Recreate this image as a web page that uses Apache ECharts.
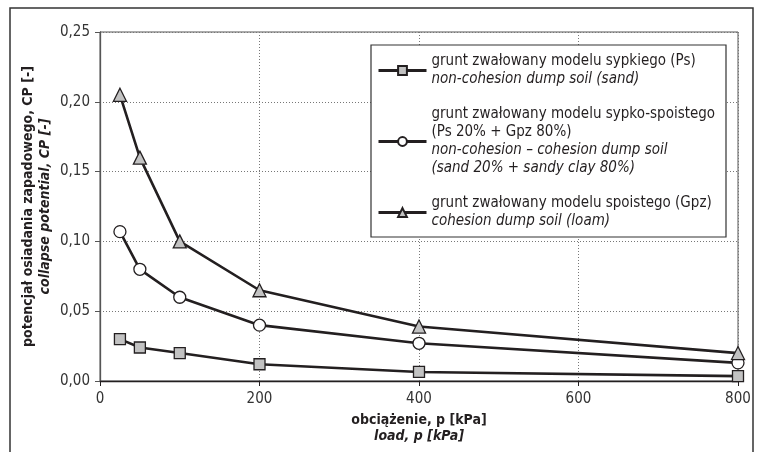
<!DOCTYPE html>
<html>
<head>
<meta charset="utf-8">
<script src="https://cdn.jsdelivr.net/npm/echarts@6/dist/echarts.min.js"></script>
<style>
html,body{margin:0;padding:0;background:#fff;}
#chart{width:758px;height:452px;}
</style>
</head>
<body>
<div id="chart"></div>
<script>
// ---- data ----
var loads = [25, 50, 100, 200, 400, 800];
var sandCP = [0.030, 0.024, 0.020, 0.012, 0.0065, 0.0035];
var mixCP = [0.107, 0.080, 0.060, 0.040, 0.027, 0.013];
var loamCP = [0.205, 0.160, 0.100, 0.065, 0.039, 0.020];
var seriesNames = ['sand', 'mix', 'loam'];
var legendPL = [
  ['grunt zwałowany modelu sypkiego (Ps)'],
  ['grunt zwałowany modelu sypko-spoistego', '(Ps 20% + Gpz 80%)'],
  ['grunt zwałowany modelu spoistego (Gpz)']
];
var legendEN = [
  ['non-cohesion dump soil (sand)'],
  ['non-cohesion – cohesion dump soil', '(sand 20% + sandy clay 80%)'],
  ['cohesion dump soil (loam)']
];
var xTitle = ['obciążenie, p [kPa]', 'load, p [kPa]'];
var yTitle = ['potencjał osiadania zapadowego, CP [-]', 'collapse potential, CP [-]'];

var FONT = '"Liberation Sans Narrow", "DejaVu Sans Condensed", "Roboto", sans-serif';

function pairs(ys) { return loads.map(function (x, i) { return [x, ys[i]]; }); }

var chart = echarts.init(document.getElementById('chart'), null, {renderer: 'canvas'});

function legendFmt(name) {
  var i = seriesNames.indexOf(name);
  var out = [];
  legendPL[i].forEach(function (t) { out.push('{p|' + t + '}'); });
  legendEN[i].forEach(function (t) { out.push('{e|' + t + '}'); });
  return out.join('\n');
}

var lineStyle = {color: '#231f20', width: 2.6};
var symStyle = function (fill) { return {color: fill, borderColor: '#231f20', borderWidth: 1.3}; };

chart.setOption({
  animation: false,
  backgroundColor: '#fff',
  textStyle: {fontFamily: FONT},
  graphic: [
    {type: 'rect', shape: {x: 10, y: 8, width: 743, height: 460}, style: {fill: 'none', stroke: '#333', lineWidth: 1.5}, silent: true, z: -1},
    {type: 'rect', shape: {x: 371, y: 45, width: 355, height: 192}, style: {fill: '#fff', stroke: '#333', lineWidth: 1.2}, silent: true, z: 5}
  ],
  grid: {left: 100, right: 20, top: 32, bottom: 71, show: true, borderColor: '#555', borderWidth: 1,
    outerBoundsMode: 'none', containLabel: false},
  legend: {
    orient: 'vertical',
    left: 377,
    top: 54,
    padding: 0,
    z: 10,
    itemWidth: 48,
    itemHeight: 11,
    itemGap: 20,
    data: seriesNames,
    formatter: legendFmt,
    lineStyle: {width: 3, color: '#231f20'},
    textStyle: {
      rich: {
        p: {fontFamily: FONT, fontSize: 15, lineHeight: 18, color: '#231f20'},
        e: {fontFamily: FONT, fontSize: 15, lineHeight: 18, color: '#231f20', fontStyle: 'italic'}
      }
    }
  },
  xAxis: {
    type: 'value', min: 0, max: 800, interval: 200,
    name: xTitle[0] + '\n{i|' + xTitle[1] + '}',
    nameLocation: 'middle', nameGap: 31,
    nameTextStyle: {fontFamily: FONT, fontSize: 14, fontWeight: 'bold', color: '#231f20', lineHeight: 16,
      rich: {i: {fontFamily: FONT, fontSize: 14, fontWeight: 'bold', fontStyle: 'italic', color: '#231f20', lineHeight: 16}}},
    axisLine: {show: true, lineStyle: {color: '#231f20', width: 1.3}},
    axisTick: {show: true, length: 5, lineStyle: {color: '#231f20'}},
    axisLabel: {fontFamily: FONT, fontSize: 15, color: '#333', margin: 11},
    splitLine: {show: true, lineStyle: {color: '#777', type: [1, 2], width: 1}}
  },
  yAxis: {
    type: 'value', min: 0, max: 0.25, interval: 0.05,
    name: yTitle[0] + '\n{i|' + yTitle[1] + '}',
    nameLocation: 'middle', nameGap: 46, nameRotate: 90, nameMoveOverlap: false,
    nameTextStyle: {fontFamily: FONT, fontSize: 14, fontWeight: 'bold', color: '#231f20', lineHeight: 17,
      rich: {i: {fontFamily: FONT, fontSize: 14, fontWeight: 'bold', fontStyle: 'italic', color: '#231f20', lineHeight: 17}}},
    axisLine: {show: true, lineStyle: {color: '#555', width: 1.3}},
    axisTick: {show: true, length: 5, lineStyle: {color: '#555'}},
    axisLabel: {fontFamily: FONT, fontSize: 15, color: '#333', margin: 10,
      formatter: function (v) { return v.toFixed(2).replace('.', ','); }},
    splitLine: {show: true, lineStyle: {color: '#777', type: [1, 2], width: 1}}
  },
  series: [
    {name: 'sand', type: 'line', data: pairs(sandCP), symbol: 'rect', symbolSize: 11,
      lineStyle: lineStyle, itemStyle: symStyle('#c2c2c2'), z: 3},
    {name: 'mix', type: 'line', data: pairs(mixCP), symbol: 'circle', symbolSize: 12,
      lineStyle: lineStyle, itemStyle: symStyle('#ffffff'), z: 3},
    {name: 'loam', type: 'line', data: pairs(loamCP), symbol: 'triangle', symbolSize: 13,
      lineStyle: lineStyle, itemStyle: symStyle('#c2c2c2'), z: 3}
  ]
});
</script>
</body>
</html>
